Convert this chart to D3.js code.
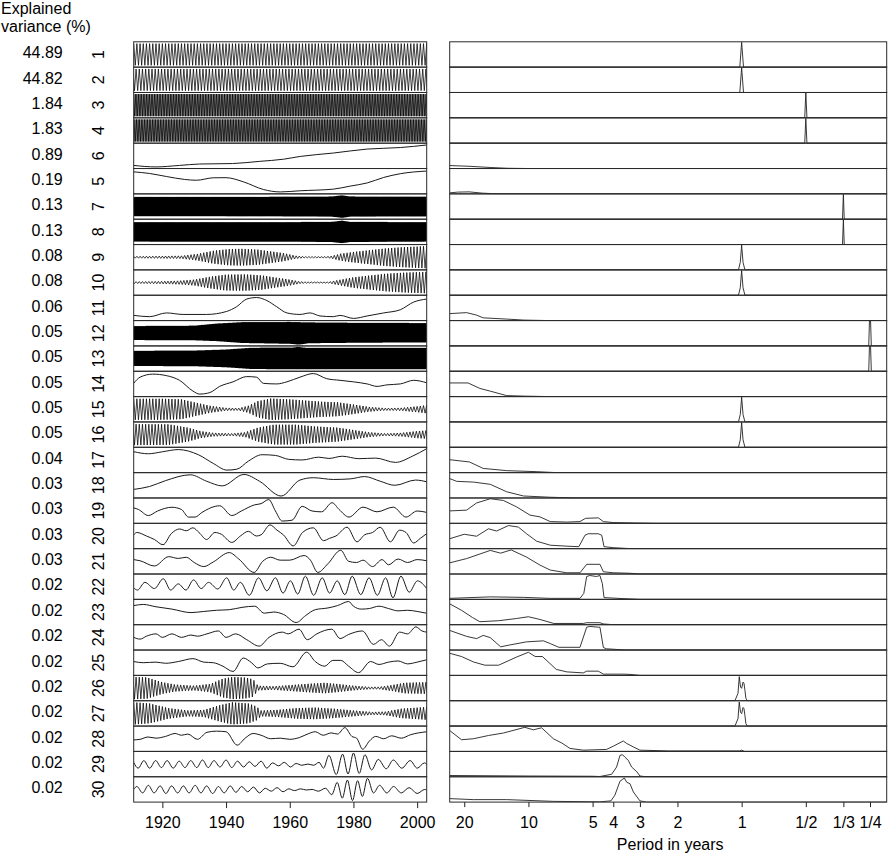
<!DOCTYPE html>
<html><head><meta charset="utf-8">
<script src="https://cdn.jsdelivr.net/npm/d3@7"></script>
<style>
body{margin:0;background:#fff}
svg{display:block;font-family:"Liberation Sans",Arial,Helvetica,sans-serif}
</style>
</head><body>
<svg id="chart" width="888" height="855"></svg>
<script>
// ---------------- labels ----------------
const componentLabels = ["1","2","3","4","6","5","7","8","9","10","11","12","13","14","15","16","17","18","19","20","21","22","23","24","25","26","27","28","29","30"];
const explainedVariance = ["44.89","44.82","1.84","1.83","0.89","0.19","0.13","0.13","0.08","0.08","0.06","0.05","0.05","0.05","0.05","0.05","0.04","0.03","0.03","0.03","0.03","0.02","0.02","0.02","0.02","0.02","0.02","0.02","0.02","0.02"];
const yearTicks = [1920,1940,1960,1980,2000];
const periodTicks = [20,10,5,4,3,2,1,1/2,1/3,1/4];
const periodTickLabels = ["20","10","5","4","3","2","1","1/2","1/3","1/4"];

// ---------------- oscillatory components: envelope [year, upper, lower] + period (years) ----------------
const env1 = [[1911,0.93],[1960,0.93],[2003,0.93]];
const env2 = [[1911,0.93],[1960,0.93],[2003,0.93]];
const env3 = [[1911,0.95],[2003,0.95]];
const env4 = [[1911,0.95],[2003,0.95]];
const env7 = [[1911,0.78],[1960,0.8],[1973,0.82],[1976.5,0.92],[1979,0.82],[2003,0.8]];
const env8 = [[1911,0.79],[1960,0.8],[1973,0.82],[1976.5,0.92],[1979,0.82],[2003,0.79]];
const env9 = [[1911,0.08],[1920,0.1],[1926,0.12],[1931,0.28],[1936,0.55],[1941,0.7],[1945,0.72],[1950,0.65],[1954,0.5],[1958,0.35],[1962,0.12],[1965,0.06],[1970,0.05],[1973,0.1],[1976,0.3],[1980,0.45],[1985,0.6],[1990,0.75],[1995,0.85],[2003,0.95]];
const env10 = [[1911,0.08],[1918,0.1],[1925,0.15],[1930,0.25],[1935,0.5],[1940,0.68],[1946,0.7],[1951,0.62],[1955,0.45],[1959,0.3],[1963,0.1],[1966,0.05],[1972,0.05],[1975,0.2],[1980,0.45],[1985,0.6],[1990,0.75],[1996,0.85],[2003,0.92]];
const env12 = [[1911,0.57,-0.53],[1930,0.6,-0.55],[1937,0.78,-0.62],[1945,0.9,-0.78],[1960,0.92,-0.85],[1963,0.9,-0.92],[1966,0.88,-0.8],[1985,0.84,-0.75],[2003,0.83,-0.74]];
const env13 = [[1911,0.62,-0.58],[1930,0.64,-0.6],[1940,0.73,-0.69],[1948,0.88,-0.84],[1961,0.9,-0.86],[1962.5,0.95,-0.86],[1965,0.88,-0.85],[2003,0.88,-0.85]];
const env15 = [[1911,0.9],[1920,0.9],[1926,0.85],[1930,0.6],[1935,0.3],[1940,0.12],[1944,0.1],[1947,0.3],[1950,0.7],[1954,0.92],[1960,0.85],[1965,0.75],[1970,0.65],[1975,0.6],[1979,0.45],[1985,0.2],[1990,0.1],[1995,0.12],[2000,0.25],[2003,0.35]];
const env16 = [[1911,0.9],[1922,0.88],[1928,0.6],[1932,0.3],[1936,0.15],[1942,0.1],[1946,0.2],[1950,0.6],[1955,0.85],[1962,0.85],[1968,0.7],[1975,0.6],[1980,0.4],[1985,0.2],[1990,0.1],[1995,0.15],[2000,0.3],[2003,0.35]];
const env26 = [[1911,0.95],[1915,0.92],[1920,0.5],[1924,0.3],[1930,0.2],[1935,0.35],[1939,0.8],[1942,0.95],[1946,0.9],[1948.5,0.75],[1950,0.2],[1955,0.15],[1960,0.25],[1965,0.35],[1971,0.45],[1975,0.35],[1980,0.2],[1985,0.1],[1988,0.1],[1992,0.25],[1996,0.45],[2003,0.5]];
const env27 = [[1911,0.95],[1916,0.85],[1922,0.45],[1928,0.25],[1933,0.3],[1938,0.7],[1942,0.95],[1947,0.85],[1949.5,0.6],[1951,0.25],[1956,0.3],[1962,0.45],[1968,0.5],[1974,0.4],[1980,0.25],[1986,0.12],[1990,0.15],[1995,0.4],[2003,0.55]];
const oscPeriods = {1:1, 2:1, 3:0.5, 4:0.5, 7:1/3, 8:1/3, 9:1, 10:1, 12:0.25, 13:0.25, 15:1, 16:1, 26:1, 27:1};

// ---------------- slow components: [year, value] (value -1 bottom .. 1 top of strip) ----------------
const ts6 = [[1911,-0.82],[1918,-0.95],[1925.4,-0.82],[1931.7,-0.7],[1942,-0.66],[1950.6,-0.47],[1958,-0.29],[1963.3,-0.05],[1973.7,0.24],[1984.3,0.58],[1994.7,0.71],[2003,0.93]];
const ts5 = [[1911,0.8],[1916,0.66],[1921.3,0.4],[1927,0.15],[1930.7,0.08],[1936,0.29],[1940,0.3],[1945.4,-0.05],[1951.7,-0.71],[1957,-0.92],[1963.3,-0.82],[1973.7,-0.68],[1979,-0.42],[1984.3,-0.15],[1989.5,0.32],[1994.7,0.64],[2003,0.87]];
const ts11 = [[1911,-0.64],[1916,-0.75],[1921.3,-0.43],[1926.5,-0.56],[1933.9,-0.56],[1940.2,-0.3],[1943.3,0.1],[1946.5,0.76],[1949.6,0.89],[1952.8,0.63],[1955.9,0.1],[1959.1,-0.43],[1963.2,-0.56],[1966.4,-0.43],[1969.5,-0.69],[1973.7,-0.75],[1975.8,-0.64],[1980,-0.9],[1984.3,-0.69],[1989.5,-0.43],[1994.7,-0.16],[1998.9,0.5],[2003,0.76]];
const ts14 = [[1911,0.05],[1913,0.58],[1917,0.84],[1921.3,0.71],[1925.4,0.31],[1929.6,-0.61],[1931.7,-0.87],[1934.9,-0.74],[1938,-0.21],[1942.2,0.18],[1946.5,0.63],[1949.6,0.58],[1951.7,0.05],[1955.9,0.0],[1959.1,0.18],[1963.2,0.58],[1967.4,0.89],[1971.6,0.45],[1975.8,0.31],[1980,0.18],[1984.3,0.0],[1987.4,-0.21],[1990.5,-0.08],[1994.7,0.0],[1998.9,0.31],[2003,0.1]];
const ts17 = [[1911,0.71],[1915.6,0.53],[1920,0.7],[1925,0.89],[1931.3,0.45],[1936,-0.3],[1940.3,-0.87],[1943.4,-0.79],[1947,-0.1],[1951.3,0.45],[1955.5,0.39],[1959.7,0.05],[1963.9,0.0],[1969.1,0.24],[1972.3,0.13],[1976.5,0.32],[1981.7,0.11],[1987,0.16],[1993.2,-0.21],[1998.5,0.32],[2003,0.97]];
const ts18 = [[1911,-0.35],[1916,-0.1],[1921,0.4],[1928.8,0.9],[1933.9,0.35],[1938.8,-0.05],[1945.6,0.93],[1950.5,0.35],[1957.3,-0.92],[1963.2,0.45],[1967.4,0.65],[1973.7,0.5],[1979,0.55],[1983.5,0.75],[1988.4,0.35],[1993,0.0],[1999.5,0.45],[2003,0.3]];
const ts19 = [[1911,0.24],[1912.5,0.1],[1915.6,-0.42],[1918.5,-0.03],[1923,0.29],[1926,0.1],[1928.2,-0.55],[1930.3,-0.55],[1932.4,-0.16],[1936.6,0.37],[1938,0.42],[1941.8,-0.42],[1944.8,-0.03],[1949,0.5],[1951,0.6],[1953.4,0.95],[1955.5,-0.03],[1957.6,-0.89],[1960.7,-0.82],[1963.9,0.37],[1967,-0.03],[1970,-0.1],[1973.3,0.68],[1975.5,0.1],[1978.6,-0.55],[1983,0.3],[1987.4,-0.1],[1992.5,0.3],[1996.5,-0.55],[2000,-0.03],[2003,-0.15]];
const ts20 = [[1911,0.1],[1912,0.3],[1915,0.0],[1917.5,-0.3],[1920.2,-0.75],[1922.8,0.2],[1925.4,0.6],[1927.5,0.45],[1929.6,0.7],[1931.5,0.3],[1933.9,-0.3],[1936.5,0.3],[1938.5,0.15],[1941.8,-0.55],[1944.5,0.0],[1947,0.4],[1949.5,0.0],[1951,0.1],[1953.8,0.95],[1956,0.5],[1958,0.1],[1961.1,-0.85],[1964,0.3],[1967.4,0.7],[1970.6,-0.4],[1972.5,-0.2],[1974.5,0.0],[1978,0.75],[1981.1,-0.5],[1983.5,0.1],[1986,0.3],[1988.4,0.75],[1991.6,-0.5],[1994.5,0.5],[1996.5,0.3],[1998.9,-0.6],[2001,-0.2],[2003,0.2]];
const ts21 = [[1911,0.15],[1913,0.05],[1917.5,-0.4],[1922,0.4],[1925,0.25],[1927.5,0.35],[1930,-0.1],[1933,-0.45],[1936,-0.05],[1941,0.75],[1944,0.2],[1948.8,-0.95],[1951.5,0.0],[1954,0.35],[1957,0.1],[1960,0.1],[1964.5,0.5],[1966.5,0.1],[1968.8,-0.95],[1972,-0.2],[1976,0.95],[1978.5,0.0],[1981,-0.1],[1983,0.1],[1986,-0.45],[1989,0.15],[1991,-0.3],[1994,0.2],[1997,-0.1],[2000,0.15],[2003,0.05]];
const ts22 = [[1911,-0.1],[1912.2,-0.29],[1914.5,0.37],[1917.5,-0.16],[1920.3,0.68],[1922.6,-0.29],[1925,0.24],[1927.4,-0.29],[1929.8,0.58],[1932.2,-0.16],[1934.5,0.37],[1937.4,-0.2],[1940.2,0.76],[1942.4,-0.29],[1944.5,0.37],[1947.3,-0.74],[1950.2,0.76],[1952.8,-0.35],[1955.5,0.76],[1957.9,-0.55],[1960.2,0.5],[1962.5,-0.63],[1964.9,0.9],[1967.5,-0.74],[1970.2,0.76],[1972.5,-0.55],[1974.9,0.5],[1977.3,-0.68],[1979.6,0.9],[1982.3,-0.68],[1984.9,0.76],[1987.5,-0.74],[1990.1,0.76],[1992.4,-0.95],[1994.9,0.9],[1997.5,-0.47],[2000.1,0.5],[2003,-0.16]];
const ts23 = [[1911,0.55],[1914,0.65],[1918,0.45],[1923,0.25],[1929,-0.05],[1933,0.05],[1937,0.15],[1941,0.2],[1945,0.4],[1949,0.5],[1952,-0.1],[1955,0.0],[1958,-0.2],[1962,-0.9],[1965,-0.3],[1968,0.2],[1972,0.35],[1975,0.55],[1978.5,0.9],[1980,0.5],[1982.5,0.25],[1985,0.3],[1988,0.5],[1991,0.3],[1994,0.1],[1997,0.15],[2000,0.05],[2003,-0.1]];
const ts24 = [[1911,0.0],[1913,-0.15],[1915,0.1],[1918,0.3],[1920,0.0],[1923,0.3],[1926,0.0],[1929,0.2],[1931,0.1],[1934,0.3],[1937.6,0.55],[1940,0.0],[1943,0.3],[1946.5,-0.2],[1950.4,-0.75],[1953.5,0.0],[1957.6,0.45],[1959.5,0.3],[1962.9,0.7],[1965.5,-0.2],[1968.5,0.3],[1973.2,0.7],[1975.8,-0.1],[1978.5,0.25],[1982.8,0.55],[1986.3,-0.6],[1988.8,-0.2],[1991.3,-0.75],[1994.5,0.45],[1997,0.3],[1999.6,0.9],[2001.5,0.55],[2003,0.45]];
const ts25 = [[1911,0.1],[1914,0.0],[1918,0.05],[1921,-0.05],[1925,0.1],[1929.6,0.35],[1933,0.05],[1936,0.0],[1939,-0.3],[1942.2,-0.75],[1945.4,0.4],[1948,0.0],[1950,-0.45],[1953,-0.1],[1957,-0.05],[1961,-0.35],[1965.3,0.9],[1968,0.1],[1971,-0.3],[1973.5,0.2],[1976,0.2],[1978.5,-0.3],[1981.6,-0.85],[1985.4,0.1],[1988,-0.15],[1991,0.05],[1994,0.15],[1997,-0.1],[2000,0.05],[2003,0.25]];
const ts28 = [[1911,-0.1],[1913,-0.05],[1915.5,0.15],[1918,0.05],[1921,0.2],[1924,0.45],[1926,0.3],[1928,0.4],[1931,-0.05],[1934,0.55],[1937,0.65],[1940,0.6],[1943.5,-0.55],[1946,0.05],[1948.5,0.45],[1951,0.3],[1954,0.0],[1957,0.05],[1960,-0.05],[1963,0.1],[1966,0.45],[1968,0.6],[1970.5,0.3],[1973,0.5],[1975,0.4],[1977.3,0.95],[1979.5,0.2],[1981,0.05],[1982.9,-0.9],[1985,-0.2],[1987,0.2],[1989.5,0.0],[1992,0.25],[1995,0.05],[1998,0.35],[2003,0.6]];
const ts29 = [[1911,0.15],[1912.4,-0.35],[1914.2,0.3],[1916.0,-0.35],[1917.9,0.3],[1919.7,-0.3],[1921.5,0.3],[1923.4,-0.35],[1925.3,0.25],[1927.1,-0.3],[1928.9,0.3],[1930.8,-0.3],[1932.6,0.35],[1934.4,-0.3],[1936.2,0.3],[1938.1,-0.25],[1940.0,0.35],[1941.8,-0.3],[1943.6,0.25],[1945.5,-0.25],[1947.3,0.2],[1949.1,-0.2],[1951.0,0.25],[1952.8,-0.35],[1954.6,0.1],[1956.5,-0.15],[1958.3,0.15],[1960.2,-0.25],[1962.0,0.05],[1963.8,-0.1],[1965.7,0.0],[1967.5,-0.1],[1969.2,0.15],[1970.6,-0.35],[1972.3,0.75],[1974.6,-0.9],[1976.6,0.85],[1978.3,-0.85],[1980.0,0.95],[1981.8,-0.8],[1983.6,0.8],[1985.7,-0.5],[1987.8,0.4],[1990.3,-0.4],[1992.5,0.35],[1995.2,-0.35],[1997.8,0.3],[2000.0,-0.35],[2002.3,0.1],[2003,0.0]];
const ts30 = [[1911,0.0],[1912.0,0.25],[1913.8,-0.3],[1915.6,0.35],[1917.4,-0.3],[1919.3,0.3],[1921.1,-0.35],[1922.9,0.3],[1924.8,-0.3],[1926.6,0.3],[1928.4,-0.3],[1930.3,0.35],[1932.1,-0.3],[1933.9,0.3],[1935.8,-0.35],[1937.6,0.25],[1939.4,-0.3],[1941.3,0.3],[1943.1,-0.25],[1944.9,0.25],[1946.8,-0.2],[1948.6,0.2],[1950.5,-0.3],[1952.3,0.1],[1954.2,-0.15],[1956.0,0.15],[1957.9,-0.2],[1959.7,0.05],[1961.5,-0.1],[1963.4,0.05],[1965.2,-0.05],[1967.0,0.0],[1969.0,-0.15],[1971.2,0.1],[1973.2,-0.45],[1974.9,0.6],[1976.5,-0.75],[1978.1,0.8],[1979.7,-0.95],[1981.3,0.75],[1982.8,-0.6],[1984.4,0.95],[1986.3,-0.3],[1988.2,0.35],[1990.5,-0.3],[1992.6,0.25],[1995.0,-0.3],[1997.5,0.15],[2000.0,-0.35],[2002.4,0.0],[2003,-0.05]];

// ---------------- spectra: [period in years, relative power 0..1] ----------------
const spec1 = [[1.02,0],[1.004,0.8],[1.0,1],[0.996,0.8],[0.98,0]];
const spec2 = [[1.02,0],[1.004,0.8],[1.0,1],[0.996,0.8],[0.98,0]];
const spec3 = [[0.506,0],[0.5,1],[0.494,0]];
const spec4 = [[0.506,0],[0.5,1],[0.494,0]];
const spec6 = [[23.4,0.12],[19,0.09],[15,0.04],[12.5,0.01],[10,0]];
const spec5 = [[23.4,0.04],[21.5,0.07],[19,0.08],[16.5,0.03],[14,0]];
const spec7 = [[0.3365,0],[0.3333,1],[0.3302,0]];
const spec8 = [[0.3365,0],[0.3333,1],[0.3302,0]];
const spec9 = [[1.035,0],[1.015,0.3],[1.003,0.85],[1.0,1],[0.997,0.85],[0.985,0.3],[0.965,0]];
const spec10 = [[1.035,0],[1.015,0.3],[1.003,0.85],[1.0,1],[0.997,0.85],[0.985,0.3],[0.965,0]];
const spec11 = [[23.4,0.28],[19.5,0.32],[17.5,0.22],[16.3,0.11],[12.65,0.06],[10.5,0.02],[8,0]];
const spec12 = [[0.2535,0],[0.2515,1],[0.2485,1],[0.2465,0]];
const spec13 = [[0.2535,0],[0.2515,1],[0.2485,1],[0.2465,0]];
const spec14 = [[23.4,0.55],[19.2,0.55],[16.9,0.33],[15.1,0.22],[12.65,0.04],[10.5,0.02],[8,0]];
const spec15 = [[1.035,0],[1.015,0.3],[1.003,0.85],[1.0,1],[0.997,0.85],[0.985,0.3],[0.965,0]];
const spec16 = [[1.035,0],[1.015,0.3],[1.003,0.85],[1.0,1],[0.997,0.85],[0.985,0.3],[0.965,0]];
const spec17 = [[23.4,0.52],[18.9,0.43],[16.3,0.17],[12.65,0.08],[9.2,0.04],[7.4,0]];
const spec18 = [[23.4,0.78],[21.7,0.67],[18.1,0.64],[15.1,0.55],[12.65,0.25],[10.55,0.08],[7.9,0.03],[6,0]];
const spec19 = [[23.4,0.5],[19.5,0.53],[17.5,0.82],[15.1,0.99],[13.1,0.92],[11.35,0.66],[9.83,0.33],[8.83,0.26],[7.9,0.07],[6.62,0.05],[5.73,0.07],[5.4,0.2],[4.7,0.22],[4.45,0.07],[4.0,0.03],[3.0,0.01],[2.5,0]];
const spec20 = [[23.4,0.4],[20,0.58],[17.5,0.5],[15.4,0.8],[14.1,0.71],[12.4,0.93],[11.15,0.87],[10.2,0.6],[9.15,0.3],[7.9,0.14],[6.6,0.1],[5.8,0.08],[5.43,0.54],[5.24,0.6],[4.7,0.6],[4.53,0.54],[4.42,0.08],[4.0,0.04],[3.3,0]];
const spec21 = [[23.4,0.45],[19.5,0.62],[15.1,0.95],[13.5,0.84],[12.05,0.97],[10.2,0.68],[8.83,0.36],[7.9,0.16],[6.62,0.05],[5.73,0.05],[5.33,0.39],[4.62,0.39],[4.45,0.09],[4.0,0.05],[3.34,0.03],[3.0,0]];
const spec22 = [[23.4,0.04],[15.1,0.1],[10.55,0.08],[7.9,0.04],[5.73,0.04],[5.5,0.24],[5.33,0.92],[5.15,0.96],[4.8,0.92],[4.62,0.96],[4.5,0.63],[4.42,0.07],[3.6,0.03],[3.0,0]];
const spec23 = [[23.4,0.84],[20.6,0.58],[18.3,0.29],[16.9,0.12],[13.8,0.16],[11.35,0.25],[10.0,0.32],[8.83,0.21],[7.6,0.05],[5.53,0.05],[5.33,0.08],[4.62,0.08],[4.45,0.03],[4,0]];
const spec24 = [[23.4,0.79],[19.5,0.55],[17.5,0.46],[16.3,0.59],[15.1,0.5],[13.5,0.13],[12.3,0.2],[10.2,0.33],[8.5,0.37],[7.9,0.26],[7.2,0.11],[5.73,0.11],[5.33,0.92],[5.15,0.95],[4.7,0.92],[4.62,0.92],[4.45,0.1],[4.3,0.05],[3.5,0]];
const spec25 = [[23.4,0.89],[20.6,0.76],[18.1,0.54],[16.0,0.41],[13.8,0.41],[11.35,0.74],[10.0,0.93],[9.3,0.76],[8.6,0.76],[7.4,0.24],[6.6,0.14],[5.53,0.1],[5.33,0.17],[4.7,0.17],[4.45,0.05],[3.6,0.05],[3.34,0.04],[3,0]];
const spec26 = [[1.075,0],[1.04,0.3],[1.026,0.97],[1.012,0.55],[1.0,0.5],[0.985,0.75],[0.975,0.7],[0.965,0.42],[0.955,0.1],[0.941,0]];
const spec27 = [[1.075,0],[1.04,0.3],[1.026,0.97],[1.012,0.55],[1.0,0.5],[0.985,0.75],[0.975,0.7],[0.965,0.42],[0.955,0.1],[0.941,0]];
const spec28 = [[23.4,0.84],[20.6,0.47],[18.1,0.51],[15.4,0.64],[13.1,0.74],[10.4,0.97],[9.48,0.87],[8.67,0.95],[7.64,0.51],[6.98,0.34],[6.38,0.12],[5.53,0.05],[4.3,0.08],[4.0,0.21],[3.59,0.42],[3.46,0.32],[3.22,0.18],[3.0,0.05],[2.2,0.02],[1.02,0.02],[1.0,0.05],[0.97,0]];
const spec29 = [[23.4,0.05],[10,0.03],[5,0.02],[4.62,0.01],[4.07,0.1],[3.86,0.39],[3.72,0.86],[3.62,0.89],[3.53,0.79],[3.4,0.66],[3.28,0.39],[3.1,0.2],[3.0,0.03],[2.8,0]];
const spec30 = [[23.4,0.14],[18.1,0.1],[12.65,0.1],[7.64,0.03],[4.62,0.01],[4.1,0.05],[3.93,0.28],[3.72,0.84],[3.55,0.97],[3.46,0.8],[3.34,0.74],[3.22,0.41],[3.0,0.05],[2.8,0]];

// table of strips (order as displayed)
const envByComp = {1:env1,2:env2,3:env3,4:env4,7:env7,8:env8,9:env9,10:env10,12:env12,13:env13,15:env15,16:env16,26:env26,27:env27};
const tsByComp = {6:ts6,5:ts5,11:ts11,14:ts14,17:ts17,18:ts18,19:ts19,20:ts20,21:ts21,22:ts22,23:ts23,24:ts24,25:ts25,28:ts28,29:ts29,30:ts30};
const specByComp = {1:spec1,2:spec2,3:spec3,4:spec4,6:spec6,5:spec5,7:spec7,8:spec8,9:spec9,10:spec10,11:spec11,12:spec12,13:spec13,14:spec14,15:spec15,16:spec16,17:spec17,18:spec18,19:spec19,20:spec20,21:spec21,22:spec22,23:spec23,24:spec24,25:spec25,26:spec26,27:spec27,28:spec28,29:spec29,30:spec30};

// ---------------- drawing ----------------
const svg = d3.select("#chart");
const FONT = 16;
const rowBand = d3.scaleBand().domain(d3.range(30)).range([41.8, 802.1]);
const xTime = d3.scaleLinear().domain([1911, 2003]).range([133.7, 426.7]);
const xFreq = d3.scaleLog().domain([1/23.4, 4.79]).range([449.7, 886.7]);
const defs = svg.append("defs");

function oscPoints(env, period, phase){
  const yrs = env.map(d => d[0]);
  const hi = d3.scaleLinear().domain(yrs).range(env.map(d => d[1])).clamp(true);
  const lo = d3.scaleLinear().domain(yrs).range(env.map(d => d[2] === undefined ? -d[1] : d[2])).clamp(true);
  const pts = [], step = period / 2;
  const t0 = xTime.domain()[0] - phase, t1 = xTime.domain()[1];
  for (let k = 0; t0 + k * step <= t1 + step; k++) {
    const t = t0 + k * step;
    pts.push([t, k % 2 === 0 ? hi(t) : lo(t)]);
  }
  return pts;
}
function oscStroke(p){ return p < 0.3 ? 1.3 : (p < 0.4 ? 1.2 : (p < 0.6 ? 0.8 : 0.75)); }

// header
svg.append("text").attr("x", 1).attr("y", 13.5).attr("font-size", FONT).text("Explained");
svg.append("text").attr("x", 1).attr("y", 31.5).attr("font-size", FONT).text("variance (%)");

componentLabels.forEach((lab, i) => {
  const comp = +lab;
  const top = rowBand(i), h = rowBand.bandwidth(), bot = top + h, cy = top + h / 2;

  // labels
  svg.append("text").attr("x", 62.7).attr("y", cy + 3.8).attr("text-anchor", "end")
    .attr("font-size", FONT).text(explainedVariance[i]);
  svg.append("text").attr("transform", `translate(104,${cy}) rotate(-90)`).attr("text-anchor", "middle")
    .attr("font-size", FONT).text(lab);

  // ---- left strip: time series
  const clipL = "clipL" + i;
  defs.append("clipPath").attr("id", clipL).append("rect")
    .attr("x", xTime.range()[0]).attr("y", top).attr("width", xTime.range()[1] - xTime.range()[0]).attr("height", h);
  const yT = d3.scaleLinear().domain([-1, 1]).range([bot - 1, top + 1]);
  let pts, curve, sw, col;
  if (envByComp[comp]) {
    const p = oscPeriods[comp];
    pts = oscPoints(envByComp[comp], p, (comp % 2 === 0) ? p / 4 : 0);
    curve = d3.curveLinear;
    sw = oscStroke(p);
    col = "#000";
  } else {
    pts = tsByComp[comp];
    curve = d3.curveMonotoneX;
    sw = 1;
    col = "#1a1a1a";
  }
  svg.append("path").attr("clip-path", `url(#${clipL})`)
    .attr("d", d3.line().curve(curve).x(d => xTime(d[0])).y(d => yT(d[1]))(pts))
    .attr("fill", "none").attr("stroke", col).attr("stroke-width", sw).attr("stroke-linejoin", "round");
  svg.append("rect").attr("x", xTime.range()[0]).attr("y", top)
    .attr("width", xTime.range()[1] - xTime.range()[0]).attr("height", h)
    .attr("fill", "none").attr("stroke", "#2a2a2a").attr("stroke-width", 1);

  // ---- right strip: spectrum
  const clipR = "clipR" + i;
  defs.append("clipPath").attr("id", clipR).append("rect")
    .attr("x", xFreq.range()[0]).attr("y", top - 0.5).attr("width", xFreq.range()[1] - xFreq.range()[0]).attr("height", h + 1);
  const yS = d3.scaleLinear().domain([0, 1]).range([bot, top + 0.5]);
  let sp = specByComp[comp].slice();
  if (sp[0][0] < 23) sp.unshift([24, 0]);
  sp.push([0.2, 0]);
  svg.append("path").attr("clip-path", `url(#${clipR})`)
    .attr("d", d3.line().x(d => xFreq(1 / d[0])).y(d => yS(d[1]))(sp))
    .attr("fill", "none").attr("stroke", "#222").attr("stroke-width", 0.9);
  svg.append("rect").attr("x", xFreq.range()[0]).attr("y", top)
    .attr("width", xFreq.range()[1] - xFreq.range()[0]).attr("height", h)
    .attr("fill", "none").attr("stroke", "#2a2a2a").attr("stroke-width", 1);
});

const bottomY = rowBand.range()[1];

// time axis
const axT = svg.append("g").attr("transform", `translate(0,${bottomY})`)
  .call(d3.axisBottom(xTime).tickValues(yearTicks).tickFormat(d3.format("d")).tickSize(6).tickPadding(8.5));
axT.select(".domain").remove();
axT.selectAll("text").attr("font-size", FONT).attr("font-family", null).attr("fill", "#000");
axT.selectAll("line").attr("stroke", "#222");

// period axis
const axF = svg.append("g").attr("transform", `translate(0,${bottomY})`)
  .call(d3.axisBottom(xFreq).tickValues(periodTicks.map(p => 1 / p))
    .tickFormat((d, i) => periodTickLabels[i]).tickSize(5).tickPadding(9.5));
axF.select(".domain").remove();
axF.selectAll("text").attr("font-size", FONT).attr("font-family", null).attr("fill", "#000");
axF.selectAll("line").attr("stroke", "#222");

svg.append("text").attr("x", (xFreq.range()[0] + xFreq.range()[1]) / 2 + 2).attr("y", 849.5)
  .attr("text-anchor", "middle").attr("font-size", FONT).text("Period in years");
</script>
</body></html>
